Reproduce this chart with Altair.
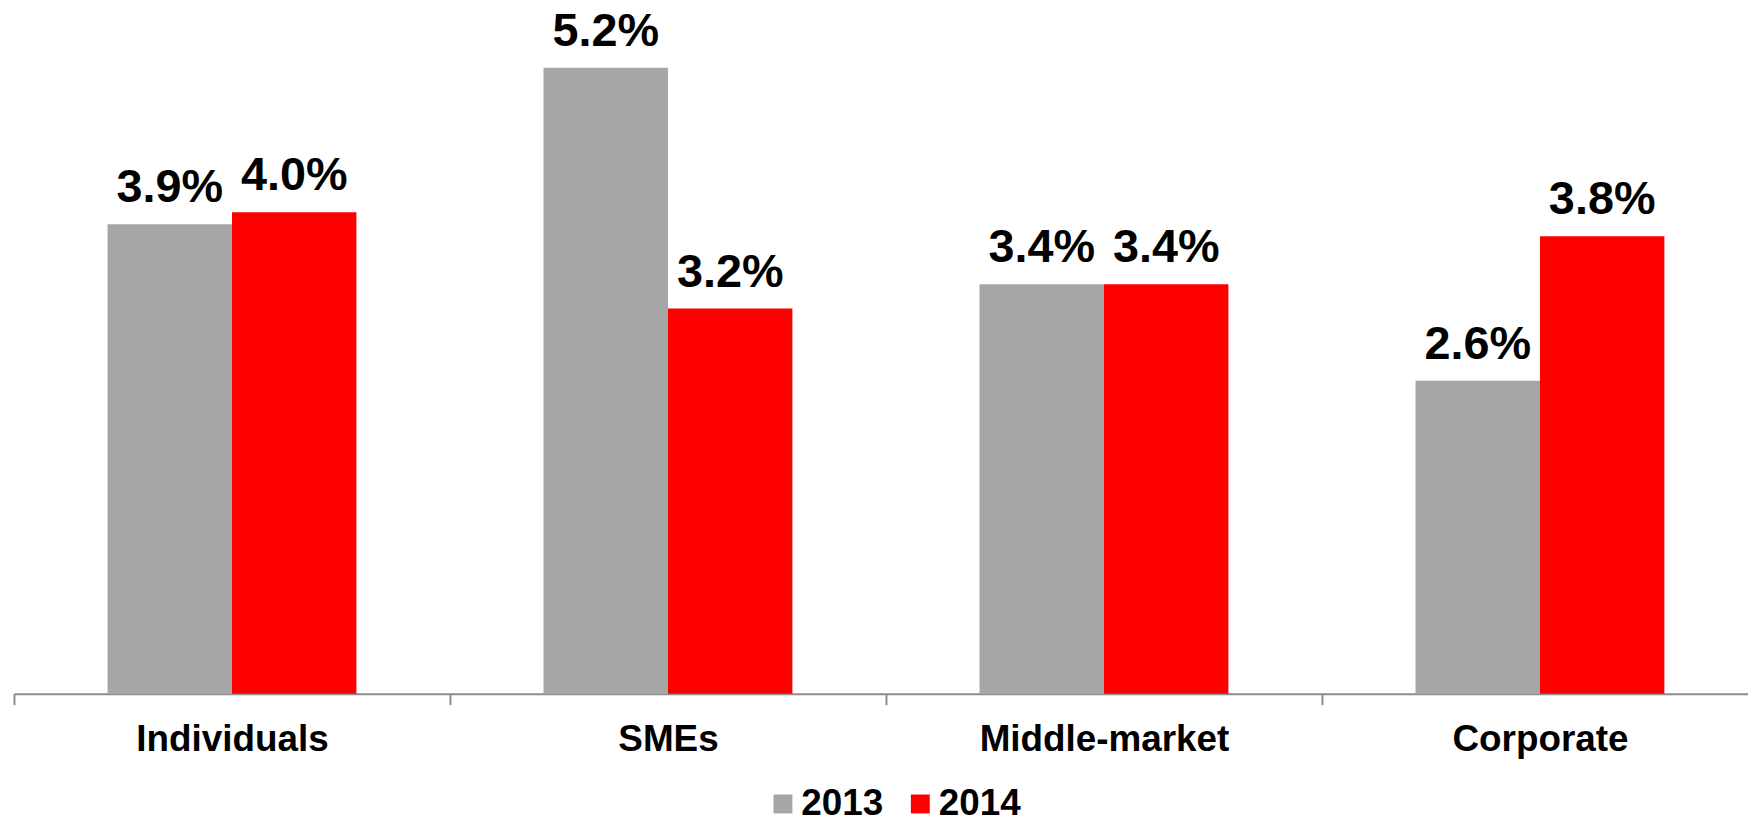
import altair as alt
import pandas as pd

categories = ["Individuals", "SMEs", "Middle-market", "Corporate"]
years = ["2013", "2014"]
values_2013 = [3.9, 5.2, 3.4, 2.6]
values_2014 = [4.0, 3.2, 3.4, 3.8]
labels_2013 = ["3.9%", "5.2%", "3.4%", "2.6%"]
labels_2014 = ["4.0%", "3.2%", "3.4%", "3.8%"]
colors = ["#A6A6A6", "#FF0000"]

rows = []
for i, c in enumerate(categories):
    rows.append(dict(category=c, year=years[0], value=values_2013[i], label=labels_2013[i]))
    rows.append(dict(category=c, year=years[1], value=values_2014[i], label=labels_2014[i]))
df = pd.DataFrame(rows)

FONT = "Liberation Sans"

x = alt.X(
    "category:N", sort=categories, title=None,
    scale=alt.Scale(range=[0, 1752], paddingInner=0, paddingOuter=0),
    axis=alt.Axis(labelAngle=0, labelFontSize=37, labelFont=FONT, labelFontWeight="bold",
                  labelColor="black", labelPadding=17, labelBaseline="top", labelLimit=0,
                  tickBand="extent", tickSize=11, tickWidth=2, tickColor="#8c8c8c",
                  domainColor="#8c8c8c", domainWidth=2, grid=False),
)
xo = alt.XOffset("year:N", sort=years, scale=alt.Scale(paddingInner=0, paddingOuter=0.752))
y = alt.Y("value:Q", scale=alt.Scale(domain=[0, 5.68], nice=False, zero=True), axis=None)

color = alt.Color(
    "year:N", sort=years,
    scale=alt.Scale(domain=years, range=colors),
    legend=alt.Legend(title=None, orient="none", legendX=754, legendY=779,
                      direction="horizontal", symbolType="square", symbolSize=361,
                      symbolStrokeWidth=0, symbolOpacity=1,
                      labelFontSize=37, labelFont=FONT, labelFontWeight="bold",
                      labelColor="black", labelOffset=0, columnPadding=18, padding=0),
)

base = alt.Chart(df)
bars = base.mark_bar(opacity=1).encode(x=x, xOffset=xo, y=y, color=color)
text = base.mark_text(dy=-22, baseline="alphabetic", align="center", fontSize=47,
                      font=FONT, fontWeight="bold", color="black").encode(
    x=x, xOffset=xo, y=y, text="label:N")

chart = (bars + text).properties(
    width=1742, height=687,
    padding={"left": 6, "top": 0, "right": 0, "bottom": 125},
    autosize=alt.AutoSizeParams(type="none"),
).configure_view(stroke=None)

chart.save("out.html", embed_options={"renderer": "svg", "actions": False})
